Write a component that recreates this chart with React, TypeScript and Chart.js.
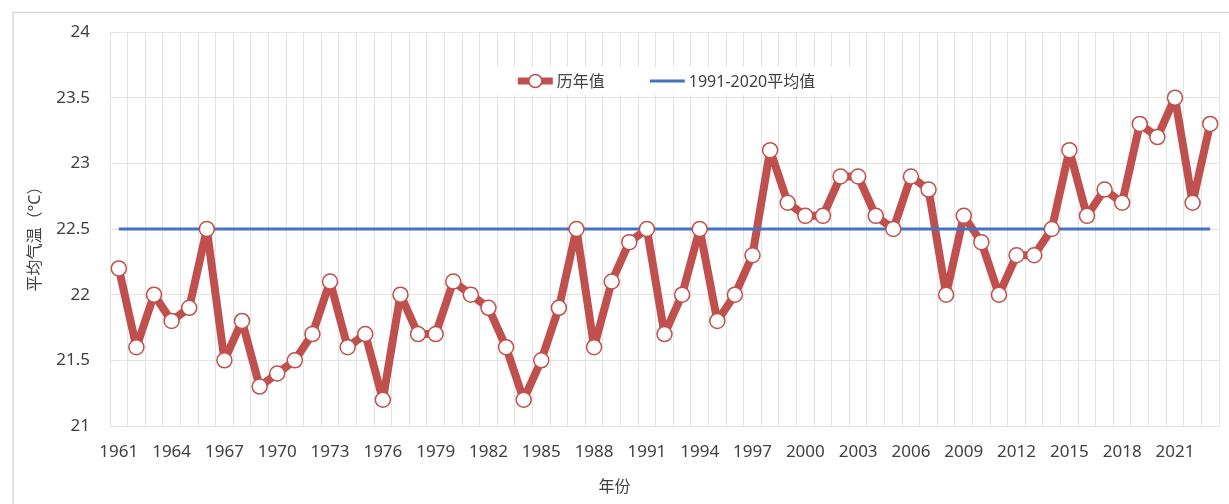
import React, { useEffect, useRef } from "react";
import { Chart, registerables } from "chart.js";

Chart.register(...registerables);

// Annual mean temperature, 1961–2023 (°C)
const years = [
  "1961", "1962", "1963", "1964", "1965", "1966", "1967", "1968", "1969", "1970",
  "1971", "1972", "1973", "1974", "1975", "1976", "1977", "1978", "1979", "1980",
  "1981", "1982", "1983", "1984", "1985", "1986", "1987", "1988", "1989", "1990",
  "1991", "1992", "1993", "1994", "1995", "1996", "1997", "1998", "1999", "2000",
  "2001", "2002", "2003", "2004", "2005", "2006", "2007", "2008", "2009", "2010",
  "2011", "2012", "2013", "2014", "2015", "2016", "2017", "2018", "2019", "2020",
  "2021", "2022", "2023",
];

const annualMean = [
  22.2, 21.6, 22.0, 21.8, 21.9, 22.5, 21.5, 21.8, 21.3, 21.4,
  21.5, 21.7, 22.1, 21.6, 21.7, 21.2, 22.0, 21.7, 21.7, 22.1,
  22.0, 21.9, 21.6, 21.2, 21.5, 21.9, 22.5, 21.6, 22.1, 22.4,
  22.5, 21.7, 22.0, 22.5, 21.8, 22.0, 22.3, 23.1, 22.7, 22.6,
  22.6, 22.9, 22.9, 22.6, 22.5, 22.9, 22.8, 22.0, 22.6, 22.4,
  22.0, 22.3, 22.3, 22.5, 23.1, 22.6, 22.8, 22.7, 23.3, 23.2,
  23.5, 22.7, 23.3,
];

// 1991–2020 climate normal
const normalMean = 22.5;
const normalLine = years.map(() => normalMean);

const yMin = 21;
const yMax = 24;
const yStep = 0.5;
const labelEvery = 3;

const seriesLabel = "历年值";
const normalLabel = "1991-2020平均值";
const xTitle = "年份";
const yTitle = "平均气温（°C）";

const FONT = '"Noto Sans", "Noto Sans CJK SC", sans-serif';
const RED = "#C0504D";
const BLUE = "#4472C4";
const GRID = "#E3E3E3";
const TEXT = "#404040";

// Frame, axis titles and the in-plot legend
const decorations = {
  id: "decorations",
  beforeDraw(chart: any) {
    const { ctx, width, height } = chart;
    ctx.save();
    ctx.fillStyle = "#fff";
    ctx.fillRect(0, 0, width, height);
    ctx.strokeStyle = "#D9D9D9";
    ctx.lineWidth = 1.5;
    ctx.strokeRect(13, 12.5, width + 20, height + 20);
    ctx.restore();
  },
  afterDraw(chart: any) {
    const { ctx, width, chartArea } = chart;
    ctx.save();

    // axis titles
    ctx.fillStyle = TEXT;
    ctx.font = `16px ${FONT}`;
    ctx.textAlign = "center";
    ctx.textBaseline = "middle";
    ctx.fillText(xTitle, width / 2, 487);
    ctx.save();
    ctx.translate(35, 235);
    ctx.rotate(-Math.PI / 2);
    ctx.fillText(yTitle, 0, 0);
    ctx.restore();

    // legend
    const ds = chart.data.datasets;
    const items = [
      { text: ds[0].label, marker: true, color: ds[0].borderColor, lw: 7 },
      { text: ds[1].label, marker: false, color: ds[1].borderColor, lw: 3 },
    ];
    ctx.font = `16px ${FONT}`;
    const sample = 35;
    const gapText = 4;
    const gapItem = 45;
    const widths = items.map((it) => ctx.measureText(it.text).width);
    const total =
      widths.reduce((a, w) => a + sample + gapText + w, 0) + gapItem * (items.length - 1);
    let x = (chartArea.left + chartArea.right) / 2 + 2 - total / 2;
    const y = 81;
    ctx.fillStyle = "#fff";
    ctx.fillRect(x - 36, y - 14, total + 72, 28);

    items.forEach((it, i) => {
      ctx.strokeStyle = it.color;
      ctx.lineWidth = it.lw;
      ctx.lineCap = "butt";
      ctx.beginPath();
      ctx.moveTo(x, y);
      ctx.lineTo(x + sample, y);
      ctx.stroke();
      if (it.marker) {
        ctx.beginPath();
        ctx.arc(x + sample / 2, y, 6.5, 0, Math.PI * 2);
        ctx.fillStyle = "#fff";
        ctx.fill();
        ctx.lineWidth = 1.5;
        ctx.stroke();
      }
      ctx.fillStyle = TEXT;
      ctx.textAlign = "left";
      ctx.textBaseline = "middle";
      ctx.fillText(it.text, x + sample + gapText, y + 1);
      x += sample + gapText + widths[i] + gapItem;
    });

    ctx.restore();
  },
};

export default function App() {
  const canvasRef = useRef<HTMLCanvasElement | null>(null);

  useEffect(() => {
    const canvas = canvasRef.current;
    if (!canvas) return;
    const chart = new Chart(canvas, {
      type: "line",
      data: {
        labels: years,
        datasets: [
          {
            label: seriesLabel,
            data: annualMean,
            borderColor: RED,
            borderWidth: 8,
            borderJoinStyle: "round",
            pointRadius: 0,
            tension: 0,
            order: 3,
          },
          {
            label: normalLabel,
            data: normalLine,
            borderColor: BLUE,
            borderWidth: 3,
            pointRadius: 0,
            tension: 0,
            order: 2,
          },
          {
            label: seriesLabel,
            data: annualMean,
            showLine: false,
            pointRadius: 7.5,
            pointBorderWidth: 1.5,
            pointBackgroundColor: "#fff",
            pointBorderColor: RED,
            borderColor: RED,
            order: 1,
          },
        ],
      },
      options: {
        responsive: false,
        animation: false,
        events: [],
        layout: { padding: { top: 32, right: 10, left: 0, bottom: 0 } },
        plugins: {
          legend: { display: false },
          tooltip: { enabled: false },
        },
        scales: {
          x: {
            type: "category",
            offset: true,
            grid: { offset: true, color: GRID, lineWidth: 1, drawTicks: false },
            border: { color: GRID },
            ticks: {
              autoSkip: false,
              maxRotation: 0,
              minRotation: 0,
              padding: 16,
              color: TEXT,
              font: { family: FONT, size: 17 },
              callback: (_v: any, i: number) => (i % labelEvery === 0 ? years[i] : ""),
            },
            afterFit: (s: any) => {
              s.height = 78;
            },
          },
          y: {
            min: yMin,
            max: yMax,
            grid: { color: GRID, lineWidth: 1, drawTicks: false },
            border: { color: GRID },
            ticks: {
              stepSize: yStep,
              padding: 20,
              color: TEXT,
              font: { family: FONT, size: 17 },
              callback: (v: any) => String(Number(v)),
            },
            afterFit: (s: any) => {
              s.width = 110;
            },
          },
        },
      },
      plugins: [decorations],
    });
    return () => chart.destroy();
  }, []);

  return (
    <div style={{ position: "absolute", left: 0, top: 0, width: 1229, height: 504 }}>
      <canvas ref={canvasRef} width={1229} height={504} />
    </div>
  );
}
